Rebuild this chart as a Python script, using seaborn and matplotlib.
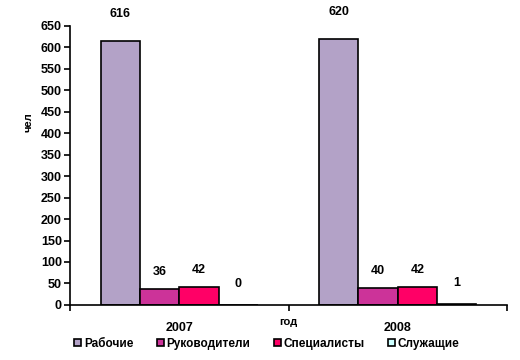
import matplotlib
matplotlib.use("Agg")
import matplotlib.pyplot as plt
import seaborn as sns
import pandas as pd
from matplotlib.ticker import FixedLocator, NullFormatter

years = ["2007", "2008"]
groups = ["Рабочие", "Руководители", "Специалисты", "Служащие"]
values = {
    "Рабочие": [616, 620],
    "Руководители": [36, 40],
    "Специалисты": [42, 42],
    "Служащие": [0, 1],
}
colors = ["#B3A2C7", "#CC3399", "#FF0066", "#CCFFFF"]

rows = []
for g in groups:
    for y, v in zip(years, values[g]):
        rows.append({"год": y, "группа": g, "чел": v})
df = pd.DataFrame(rows)

sns.set_theme(style="white")
plt.rcParams['font.family'] = ['Liberation Sans', 'DejaVu Sans']
plt.rcParams['font.weight'] = 'bold'
plt.rcParams['text.color'] = 'black'
plt.rcParams['axes.labelcolor'] = 'black'
plt.rcParams['xtick.color'] = 'black'
plt.rcParams['ytick.color'] = 'black'

fig = plt.figure(figsize=(5.2, 3.6), dpi=100)
ax = fig.add_axes([0.135, 0.153, 0.84, 0.775])

sns.barplot(data=df, x="год", y="чел", hue="группа", hue_order=groups,
            order=years, palette=colors, saturation=1, width=0.72,
            edgecolor="black", linewidth=1.2, ax=ax, legend=True)

label_offsets = [15, 8, 8, 11]
for cont, off in zip(ax.containers, label_offsets):
    for bar in cont:
        h = bar.get_height()
        ax.annotate(f"{int(h)}", (bar.get_x() + bar.get_width() / 2, h),
                    xytext=(0, off), textcoords="offset points",
                    ha="center", va="bottom", fontsize=9, fontweight="bold",
                    color="black", annotation_clip=False)

ax.set_xlim(-0.5, 1.5)
ax.set_ylim(0, 650)
ax.set_yticks(range(0, 651, 50))
ax.tick_params(axis="y", labelsize=9, length=4, width=1.2, direction="out",
               left=True, pad=2)
ax.xaxis.set_major_locator(FixedLocator([-0.5, 0.5, 1.5]))
ax.xaxis.set_major_formatter(NullFormatter())
ax.xaxis.set_minor_locator(FixedLocator([0, 1]))
ax.set_xticklabels(years, minor=True)
ax.tick_params(axis="x", which="major", length=4, width=1.2, direction="out",
               bottom=True)
ax.tick_params(axis="x", which="minor", length=0, labelsize=9, pad=12)

for s in ["top", "right"]:
    ax.spines[s].set_visible(False)
for s in ["left", "bottom"]:
    ax.spines[s].set_color("black")
    ax.spines[s].set_linewidth(1.2)

ax.set_xlabel("год", fontsize=8, fontweight="bold", labelpad=-12)
ax.set_ylabel("чел", fontsize=8, fontweight="bold")
ax.yaxis.set_label_coords(-0.085, 0.656)

leg = ax.legend(loc="upper center", bbox_to_anchor=(0.45, -0.1), ncol=4,
                frameon=False, fontsize=8.5, handlelength=0.6, handleheight=0.6,
                handletextpad=0.2, columnspacing=2.0, borderaxespad=0)
for t in leg.get_texts():
    t.set_fontweight("bold")
    t.set_color("black")

fig.savefig("out.png", dpi=100)
